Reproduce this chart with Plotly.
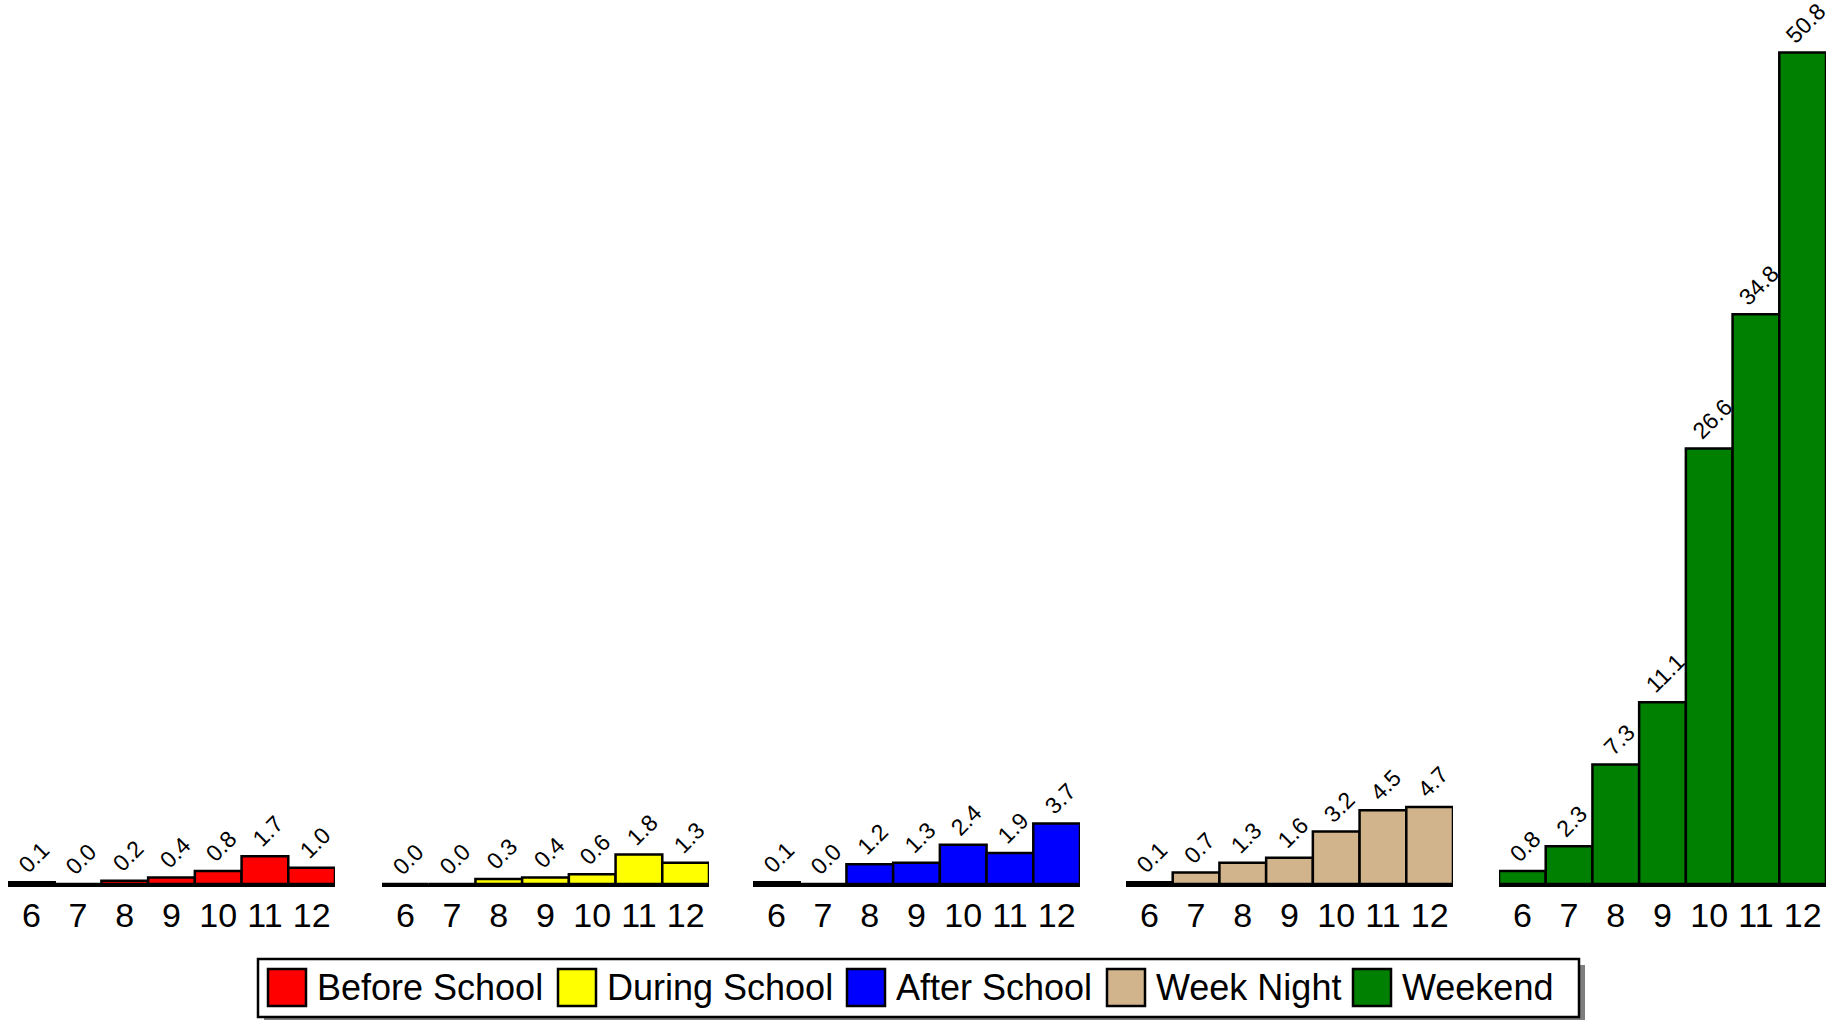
import plotly.graph_objects as go

# ---------------- data ----------------
grades = ["6", "7", "8", "9", "10", "11", "12"]
series_names = ["Before School", "During School", "After School", "Week Night", "Weekend"]
before_school = [0.1, 0.0, 0.2, 0.4, 0.8, 1.7, 1.0]
during_school = [0.0, 0.0, 0.3, 0.4, 0.6, 1.8, 1.3]
after_school = [0.1, 0.0, 1.2, 1.3, 2.4, 1.9, 3.7]
week_night = [0.1, 0.7, 1.3, 1.6, 3.2, 4.5, 4.7]
weekend = [0.8, 2.3, 7.3, 11.1, 26.6, 34.8, 50.8]
series_values = [before_school, during_school, after_school, week_night, weekend]

# ---------------- styling / layout ----------------
colors = ["#ff0000", "#ffff00", "#0000ff", "#d2b48c", "#008000"]
W, H = 1843, 1020
FONT = "Liberation Sans, Arial, sans-serif"
panel_left_px = [8, 382, 753, 1126, 1499]
panel_width_px = 327
baseline_px = 884
y_max = 54.0


def px_x(x):
    return x / W


def px_y(y):
    return 1 - y / H


fig = go.Figure()
layout = dict(
    width=W, height=H,
    margin=dict(l=0, r=0, t=0, b=0),
    paper_bgcolor="white", plot_bgcolor="rgba(0,0,0,0)",
    showlegend=False, bargap=0,
    font=dict(family=FONT, color="black"),
    yaxis=dict(domain=[px_y(baseline_px), 1], range=[0, y_max],
               visible=False, fixedrange=True),
)

annotations = []
for i, (name, vals, col) in enumerate(zip(series_names, series_values, colors)):
    xa = "x" if i == 0 else f"x{i + 1}"
    key = "xaxis" if i == 0 else f"xaxis{i + 1}"
    layout[key] = dict(
        domain=[px_x(panel_left_px[i]), px_x(panel_left_px[i] + panel_width_px)],
        anchor="y", type="category",
        range=[-0.5, len(grades) - 0.5],
        showgrid=False, zeroline=False,
        showline=True, linecolor="black", linewidth=2.5,
        ticks="", ticklabelstandoff=0,
        tickfont=dict(size=34, family=FONT, color="black"),
        fixedrange=True,
    )
    fig.add_trace(go.Bar(
        x=grades, y=vals, name=name, xaxis=xa, yaxis="y", width=1,
        marker=dict(color=col, line=dict(color="black", width=2.5)),
        hoverinfo="x+y",
    ))
    for k, v in enumerate(vals):
        annotations.append(dict(
            x=k, y=v, xref=xa, yref="y", text=f"{v:.1f}", showarrow=False,
            textangle=-45, xanchor="center", yanchor="bottom",
            xshift=3, yshift=3, borderpad=0,
            font=dict(size=23, family=FONT, color="black"),
        ))

# ---------------- manual legend ----------------
shapes = []
box = (258, 959, 1579, 1017)
shapes.append(dict(type="rect", xref="paper", yref="paper",
                   x0=px_x(box[0] + 6), x1=px_x(box[2] + 6),
                   y0=px_y(box[3] + 6), y1=px_y(box[1] + 6),
                   fillcolor="#7f7f7f", line=dict(width=0), layer="above"))
shapes.append(dict(type="rect", xref="paper", yref="paper",
                   x0=px_x(box[0]), x1=px_x(box[2]),
                   y0=px_y(box[3]), y1=px_y(box[1]),
                   fillcolor="white", line=dict(color="black", width=2.5), layer="above"))
swatch_left_px = [268, 558, 847, 1107, 1353]
sw, sh_top, sh_bot = 38, 969, 1006
for name, col, sx in zip(series_names, colors, swatch_left_px):
    shapes.append(dict(type="rect", xref="paper", yref="paper",
                       x0=px_x(sx), x1=px_x(sx + sw),
                       y0=px_y(sh_bot), y1=px_y(sh_top),
                       fillcolor=col, line=dict(color="black", width=2.5), layer="above"))
    annotations.append(dict(
        x=px_x(sx + sw + 9), y=px_y((sh_top + sh_bot) / 2), xref="paper", yref="paper",
        text=name, showarrow=False, xanchor="left", yanchor="middle",
        font=dict(size=36, family=FONT, color="black"),
    ))

layout["shapes"] = shapes
layout["annotations"] = annotations
fig.update_layout(**layout)
fig.write_html(
    "out.html",
    config={"displayModeBar": False, "staticPlot": True},
    post_script="document.body.style.margin='0px';document.body.style.overflow='hidden';",
)
